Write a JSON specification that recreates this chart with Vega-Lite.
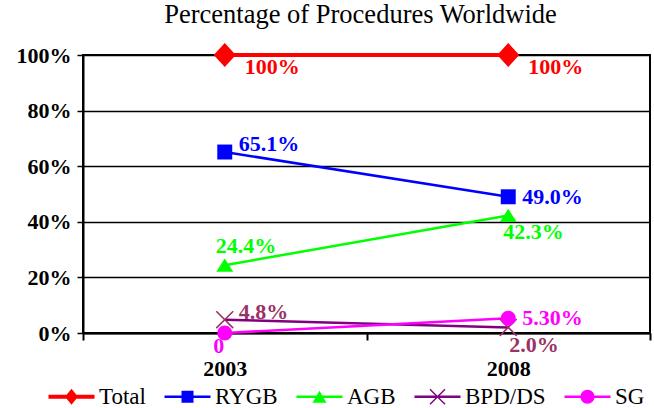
{
  "$schema": "https://vega.github.io/schema/vega-lite/v6.json",
  "width": 567,
  "height": 278,
  "autosize": {"type": "none"},
  "padding": {"left": 83, "top": 55, "right": 4, "bottom": 75},
  "background": "white",
  "config": {"view": {"stroke": "#000", "strokeWidth": 2}, "font": "'Liberation Serif', 'Times New Roman', 'DejaVu Serif', serif"},
  "title": {"text": "Percentage of Procedures Worldwide", "font": "'Liberation Serif', 'Times New Roman', 'DejaVu Serif', serif", "fontSize": 26.5, "fontWeight": "normal", "color": "#000", "anchor": "middle", "frame": "group", "offset": 14, "dx": -6},
  "data": {"values": [
    {"series": "Total", "year": "2003", "value": 100, "label": "100%"},
    {"series": "Total", "year": "2008", "value": 100, "label": "100%"},
    {"series": "RYGB", "year": "2003", "value": 65.1, "label": "65.1%"},
    {"series": "RYGB", "year": "2008", "value": 49.0, "label": "49.0%"},
    {"series": "AGB", "year": "2003", "value": 24.4, "label": "24.4%"},
    {"series": "AGB", "year": "2008", "value": 42.3, "label": "42.3%"},
    {"series": "BPD/DS", "year": "2003", "value": 4.8, "label": "4.8%"},
    {"series": "BPD/DS", "year": "2008", "value": 2.0, "label": "2.0%"},
    {"series": "SG", "year": "2003", "value": 0, "label": "0"},
    {"series": "SG", "year": "2008", "value": 5.3, "label": "5.30%"}
  ]},
  "encoding": {
    "x": {"field": "year", "type": "nominal", "scale": {"type": "band", "paddingInner": 0, "paddingOuter": 0},
      "axis": {"title": null, "labelAngle": 0, "tickBand": "extent", "grid": false, "domainColor": "#000", "domainWidth": 2, "tickColor": "#000", "tickWidth": 2, "tickSize": 7, "labelFont": "'Liberation Serif', 'Times New Roman', 'DejaVu Serif', serif", "labelFontSize": 22, "labelFontWeight": "bold", "labelColor": "#000", "labelPadding": 18}},
    "y": {"field": "value", "type": "quantitative", "scale": {"domain": [0, 100], "nice": false},
      "axis": {"values": [0, 20, 40, 60, 80, 100], "labelExpr": "datum.value + '%'", "title": null, "grid": true, "gridColor": "#000", "gridWidth": 1.5, "gridOpacity": 1, "domainColor": "#000", "domainWidth": 2, "tickColor": "#000", "tickWidth": 1.5, "tickSize": 6, "labelFont": "'Liberation Serif', 'Times New Roman', 'DejaVu Serif', serif", "labelFontSize": 22, "labelFontWeight": "bold", "labelColor": "#000", "labelPadding": 6}}
  },
  "layer": [
    {
      "transform": [{"filter": "datum.series === 'Total'"}],
      "mark": {"type": "line", "strokeWidth": 4},
      "encoding": {
        "color": {"field": "series", "type": "nominal",
          "scale": {"domain": ["Total", "RYGB", "AGB", "BPD/DS", "SG"], "range": ["#FF0000", "#0000FF", "#00FF00", "#800080", "#FF00FF"]},
          "legend": {"orient": "none", "legendX": -23, "legendY": 330, "direction": "horizontal", "title": null, "symbolSize": 100, "symbolStrokeWidth": 0, "labelFont": "'Liberation Serif', 'Times New Roman', 'DejaVu Serif', serif", "labelFontSize": 23, "labelColor": "#000", "labelOffset": 16, "columnPadding": 18,
            "encode": {"symbols": {"update": {
              "shape": {"signal": "datum.value === 'Total' ? 'M-4.6,-0.4H4.6V0.4H-4.6Z M0,-1.6L1.3,0L0,1.6L-1.3,0Z' : datum.value === 'RYGB' ? 'M-4.6,-0.25H4.6V0.25H-4.6Z M-1.2,-1.2H1.2V1.2H-1.2Z' : datum.value === 'AGB' ? 'M-4.6,-0.25H4.6V0.25H-4.6Z M0,-1.2L1.4,1.2H-1.4Z' : datum.value === 'BPD/DS' ? 'M-4.6,-0.25H4.6V0.25H-4.6Z M-1.4,-1.6L1.6,1.4L1.4,1.6L-1.6,-1.4Z M-1.6,1.4L1.4,-1.6L1.6,-1.4L-1.4,1.6Z' : 'M-4.6,-0.25H4.6V0.25H-4.6Z M-1.4,0A1.4,1.4,0,1,1,1.4,0A1.4,1.4,0,1,1,-1.4,0Z'"},
              "fill": {"scale": "color", "field": "value"},
              "strokeWidth": {"value": 0},
              "opacity": {"value": 1}
            }}}}
        }
      }
    },
    {
      "transform": [{"filter": "datum.series !== 'Total'"}],
      "mark": {"type": "line", "strokeWidth": 2.5},
      "encoding": {
        "color": {"field": "series", "type": "nominal",
          "scale": {"domain": ["Total", "RYGB", "AGB", "BPD/DS", "SG"], "range": ["#FF0000", "#0000FF", "#00FF00", "#800080", "#FF00FF"]}}
      }
    },
    {
      "mark": {"type": "point", "filled": true, "size": 484, "opacity": 1, "strokeWidth": 0},
      "encoding": {
        "shape": {"field": "series", "type": "nominal", "legend": null,
          "scale": {"domain": ["SG", "BPD/DS", "AGB", "RYGB", "Total"], "range": [
            "M-0.68,0A0.68,0.68,0,1,1,0.68,0A0.68,0.68,0,1,1,-0.68,0Z",
            "M-0.72,-0.82L0.82,0.72L0.72,0.82L-0.82,-0.72Z M-0.82,0.72L0.72,-0.82L0.82,-0.72L-0.72,0.82Z",
            "M0,-0.6L0.77,0.6H-0.77Z",
            "M-0.68,-0.68H0.68V0.68H-0.68Z",
            "M0,-1.1L1,0L0,1.1L-1,0Z"]}},
        "fill": {"field": "series", "type": "nominal", "legend": null,
          "scale": {"domain": ["SG", "BPD/DS", "AGB", "RYGB", "Total"], "range": ["#FF00FF", "#993366", "#00FF00", "#0000FF", "#FF0000"]}}
      }
    },
    {
      "transform": [{"filter": "datum.series === 'Total'"}],
      "mark": {"type": "text", "align": "left", "baseline": "middle", "dx": 20, "dy": 12, "fontSize": 22, "fontWeight": "bold", "font": "'Liberation Serif', 'Times New Roman', 'DejaVu Serif', serif"},
      "encoding": {"text": {"field": "label"}, "fill": {"field": "series", "type": "nominal", "legend": null}}
    },
    {
      "transform": [{"filter": "(datum.series === 'RYGB' || datum.series === 'BPD/DS') && datum.year === '2003'"}],
      "mark": {"type": "text", "align": "left", "baseline": "middle", "dx": 14, "dy": -8, "fontSize": 22, "fontWeight": "bold", "font": "'Liberation Serif', 'Times New Roman', 'DejaVu Serif', serif"},
      "encoding": {"text": {"field": "label"}, "fill": {"field": "series", "type": "nominal", "legend": null}}
    },
    {
      "transform": [{"filter": "(datum.series === 'RYGB' || datum.series === 'SG') && datum.year === '2008'"}],
      "mark": {"type": "text", "align": "left", "baseline": "middle", "dx": 14, "dy": 0, "fontSize": 22, "fontWeight": "bold", "font": "'Liberation Serif', 'Times New Roman', 'DejaVu Serif', serif"},
      "encoding": {"text": {"field": "label"}, "fill": {"field": "series", "type": "nominal", "legend": null}}
    },
    {
      "transform": [{"filter": "datum.series === 'AGB' && datum.year === '2008'"}],
      "mark": {"type": "text", "align": "left", "baseline": "middle", "dx": -5, "dy": 17, "fontSize": 22, "fontWeight": "bold", "font": "'Liberation Serif', 'Times New Roman', 'DejaVu Serif', serif"},
      "encoding": {"text": {"field": "label"}, "fill": {"field": "series", "type": "nominal", "legend": null}}
    },
    {
      "transform": [{"filter": "datum.series === 'BPD/DS' && datum.year === '2008'"}],
      "mark": {"type": "text", "align": "left", "baseline": "middle", "dx": 1, "dy": 18, "fontSize": 22, "fontWeight": "bold", "font": "'Liberation Serif', 'Times New Roman', 'DejaVu Serif', serif"},
      "encoding": {"text": {"field": "label"}, "fill": {"field": "series", "type": "nominal", "legend": null}}
    },
    {
      "transform": [{"filter": "datum.series === 'AGB' && datum.year === '2003'"}],
      "mark": {"type": "text", "align": "left", "baseline": "middle", "dx": -9, "dy": -19, "fontSize": 22, "fontWeight": "bold", "font": "'Liberation Serif', 'Times New Roman', 'DejaVu Serif', serif"},
      "encoding": {"text": {"field": "label"}, "fill": {"field": "series", "type": "nominal", "legend": null}}
    },
    {
      "transform": [{"filter": "datum.series === 'SG' && datum.year === '2003'"}],
      "mark": {"type": "text", "align": "center", "baseline": "middle", "dx": -6, "dy": 13, "fontSize": 22, "fontWeight": "bold", "font": "'Liberation Serif', 'Times New Roman', 'DejaVu Serif', serif"},
      "encoding": {"text": {"field": "label"}, "fill": {"field": "series", "type": "nominal", "legend": null}}
    }
  ]
}
